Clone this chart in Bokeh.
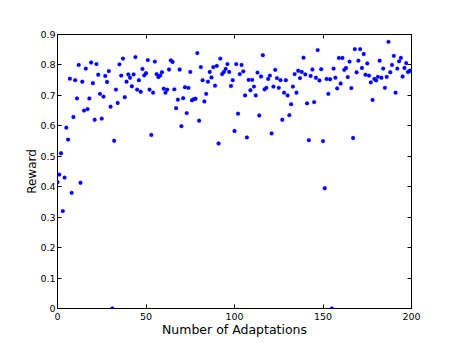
from bokeh.plotting import figure
from bokeh.models import FixedTicker, LinearAxis, Range1d
from bokeh.embed import file_html
from bokeh.resources import INLINE

x_ticks = [0, 50, 100, 150, 200]
y_ticks = [0.0, 0.1, 0.2, 0.3, 0.4, 0.5, 0.6, 0.7, 0.8, 0.9]
x_label = "Number of Adaptations"
y_label = "Reward"

reward = [
    0.415, 0.44, 0.51, 0.32, 0.43, 0.594, 0.555, 0.755, 0.38, 0.629,
    0.75, 0.69, 0.80, 0.413, 0.745, 0.65, 0.788, 0.655, 0.69, 0.808,
    0.74, 0.62, 0.803, 0.768, 0.705, 0.624, 0.696, 0.764, 0.744, 0.78,
    0.663, 0.0, 0.551, 0.719, 0.675, 0.802, 0.765, 0.821, 0.694, 0.745,
    0.769, 0.758, 0.73, 0.769, 0.826, 0.719, 0.75, 0.712, 0.787, 0.766,
    0.773, 0.816, 0.719, 0.57, 0.709, 0.811, 0.77, 0.76, 0.765, 0.776,
    0.722, 0.709, 0.719, 0.785, 0.815, 0.81, 0.72, 0.658, 0.686, 0.785,
    0.599, 0.691, 0.727, 0.642, 0.725, 0.777, 0.684, 0.688, 0.689, 0.839,
    0.617, 0.793, 0.75, 0.68, 0.705, 0.745, 0.777, 0.759, 0.793, 0.732,
    0.797, 0.542, 0.821, 0.77, 0.777, 0.787, 0.803, 0.777, 0.731, 0.75,
    0.583, 0.803, 0.64, 0.77, 0.80, 0.779, 0.70, 0.562, 0.751, 0.717,
    0.751, 0.729, 0.70, 0.775, 0.634, 0.762, 0.832, 0.72, 0.725, 0.754,
    0.765, 0.575, 0.729, 0.784, 0.757, 0.725, 0.75, 0.62, 0.709, 0.75,
    0.70, 0.635, 0.671, 0.729, 0.77, 0.709, 0.781, 0.757, 0.777, 0.824,
    0.769, 0.674, 0.553, 0.764, 0.785, 0.678, 0.758, 0.849, 0.749, 0.786,
    0.55, 0.395, 0.754, 0.705, 0.753, 0.0, 0.788, 0.758, 0.723, 0.823,
    0.739, 0.823, 0.784, 0.79, 0.76, 0.811, 0.724, 0.56, 0.852, 0.776,
    0.814, 0.852, 0.79, 0.836, 0.768, 0.805, 0.765, 0.743, 0.685, 0.754,
    0.749, 0.761, 0.814, 0.758, 0.788, 0.725, 0.761, 0.876, 0.776, 0.80,
    0.83, 0.709, 0.788, 0.812, 0.823, 0.762, 0.79, 0.806, 0.777, 0.781,
    0.781,
]
adaptations = list(range(len(reward)))

FONT = "DejaVu Sans"

p = figure(
    frame_width=354, frame_height=274,
    x_range=Range1d(0, 200), y_range=Range1d(0, 0.9),
    output_backend="svg", toolbar_location=None,
    min_border_left=57, min_border_top=34, min_border_right=40, min_border_bottom=30,
)
p.background_fill_color = "white"
p.border_fill_color = "white"
p.outline_line_color = "black"
p.outline_line_width = 1
p.grid.visible = False

p.scatter(adaptations, reward, size=3.8, fill_color="#0000ff", line_color="#0000ff", line_width=0.3)

for ax in p.xaxis:
    ax.ticker = FixedTicker(ticks=x_ticks)
for ax in p.yaxis:
    ax.ticker = FixedTicker(ticks=y_ticks)

for ax in list(p.xaxis) + list(p.yaxis):
    ax.axis_line_color = None
    ax.major_tick_in = 4
    ax.major_tick_out = 0
    ax.minor_tick_line_color = None
    ax.major_tick_line_color = "black"
    ax.major_label_text_font = FONT
    ax.major_label_text_font_size = "9.5px"
    ax.major_label_text_color = "black"
    ax.axis_label_text_font = FONT
    ax.axis_label_text_font_style = "normal"
    ax.axis_label_text_color = "black"

p.xaxis.axis_label = x_label
p.yaxis.axis_label = y_label
p.xaxis.major_label_standoff = 4
p.yaxis.major_label_standoff = 2
p.xaxis.axis_label_text_font_size = "12.5px"
p.yaxis.axis_label_text_font_size = "12px"
p.xaxis.axis_label_standoff = -1
p.yaxis.axis_label_standoff = -2

top = LinearAxis(ticker=FixedTicker(ticks=x_ticks), major_label_text_color=None,
                 major_label_text_font_size="6px",
                 axis_line_color=None, major_tick_in=4, major_tick_out=0,
                 minor_tick_line_color=None, major_label_standoff=0)
right = LinearAxis(ticker=FixedTicker(ticks=y_ticks), major_label_text_color=None,
                   major_label_text_font_size="6px",
                   axis_line_color=None, major_tick_in=4, major_tick_out=0,
                   minor_tick_line_color=None, major_label_standoff=0)
p.add_layout(top, "above")
p.add_layout(right, "right")

open("out.html", "w").write(file_html(p, INLINE))
